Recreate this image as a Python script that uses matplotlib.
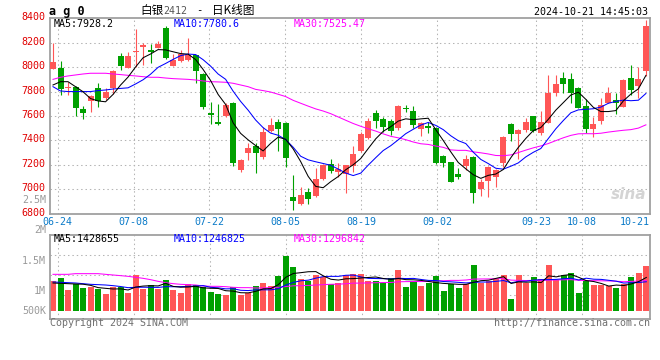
import matplotlib
matplotlib.use('Agg')
import matplotlib.pyplot as plt
import numpy as np
from matplotlib.transforms import ScaledTranslation

# ---------------- data ----------------
opens = [7988, 7996, 7830, 7840, 7660, 7723, 7829, 7750, 7827, 8091,
         7996, 8127, 8162, 8140, 8160, 8318, 8012, 8053, 8059, 8100,
         7944, 7622, 7554, 7600, 7709, 7158, 7295, 7352, 7267, 7478,
         7548, 7546, 6934, 6880, 6975, 6945, 7084, 7204, 7144, 7125,
         7194, 7314, 7417, 7622, 7573, 7562, 7505, 7668, 7641, 7496,
         7518, 7505, 7276, 7221, 7125, 7194, 7267, 7003, 7071, 7098,
         7218, 7535, 7453, 7486, 7600, 7458, 7546, 7791, 7914, 7903,
         7832, 7682, 7497, 7562, 7704, 7731, 7677, 7914, 7849, 7971]
highs = [8195, 8053, 7881, 7845, 7682, 7772, 7868, 7827, 7977, 8113,
         8127, 8310, 8201, 8190, 8214, 8337, 8105, 8140, 8236, 8100,
         7950, 7718, 7698, 7704, 7718, 7245, 7376, 7382, 7507, 7581,
         7573, 7550, 7117, 7022, 7008, 7177, 7207, 7245, 7218, 7199,
         7355, 7472, 7581, 7649, 7595, 7573, 7690, 7690, 7682, 7554,
         7554, 7510, 7280, 7226, 7177, 7281, 7270, 7082, 7190, 7164,
         7436, 7540, 7490, 7581, 7600, 7644, 7936, 7936, 7963, 7950,
         7840, 7739, 7595, 7745, 7840, 7791, 7900, 8018, 7999, 8390]
lows = [7982, 7772, 7772, 7600, 7573, 7636, 7677, 7731, 7780, 7977,
        7996, 8004, 8018, 8037, 8154, 8064, 8012, 8045, 8053, 7873,
        7655, 7535, 7527, 7595, 7194, 7145, 7240, 7136, 7245, 7466,
        7316, 7185, 6831, 6875, 6880, 6940, 7080, 7131, 7104, 6967,
        7145, 7308, 7409, 7499, 7472, 7445, 7486, 7636, 7499, 7436,
        7464, 7207, 7185, 7060, 7082, 7158, 6885, 6945, 6940, 7022,
        7185, 7398, 7245, 7472, 7472, 7445, 7540, 7764, 7791, 7704,
        7663, 7458, 7426, 7535, 7704, 7617, 7671, 7772, 7750, 7928]
closes = [8043, 7821, 7834, 7668, 7627, 7764, 7723, 7800, 7969, 8010,
          8091, 8135, 8179, 8124, 8190, 8078, 8059, 8105, 8100, 7971,
          7671, 7606, 7535, 7690, 7218, 7240, 7341, 7300, 7472, 7527,
          7494, 7254, 6907, 6953, 6921, 7084, 7199, 7153, 7164, 7199,
          7289, 7453, 7562, 7562, 7507, 7478, 7682, 7655, 7527, 7540,
          7505, 7213, 7213, 7062, 7104, 7245, 6973, 7063, 7185, 7158,
          7431, 7453, 7486, 7554, 7480, 7554, 7791, 7862, 7862, 7791,
          7669, 7497, 7535, 7690, 7791, 7709, 7895, 7813, 7903, 8340]
volumes = [1262, 1404, 894, 1163, 979, 1021, 922, 738, 1021, 1007,
           780, 1546, 950, 1106, 950, 1333, 894, 780, 1149, 1092,
           1007, 809, 738, 667, 1007, 667, 780, 1064, 1191, 1064,
           1504, 2355, 1872, 1362, 1262, 1532, 1447, 1149, 1191, 1532,
           1574, 1574, 1262, 1291, 1206, 1404, 1745, 1021, 1262, 1078,
           1177, 1504, 851, 1163, 979, 1163, 1957, 1191, 1262, 1376,
           1518, 511, 1532, 1191, 1447, 1362, 1957, 1305, 1518, 1617,
           766, 1262, 1106, 1106, 1064, 979, 1163, 1447, 1617, 1929]  # thousands of lots

# moving-average values before enough history is visible
ma5_head = [7854, 7881, 7881, 7840]
ma10_head = [7840, 7805, 7800, 7800, 7800, 7800, 7808, 7813, 7821]
ma30_head = [7900, 7917, 7928, 7936, 7944, 7950, 7950, 7950, 7944, 7939,
             7933, 7928, 7922, 7917, 7917, 7911, 7906, 7903, 7900, 7895,
             7887, 7881, 7879, 7876, 7868, 7854, 7840, 7818, 7808]
vma5_head = [1191, 1177, 1163, 1149]
vma10_head = [1234, 1220, 1206, 1191, 1163, 1135, 1121, 1106, 1078]
vma30_head = [1560, 1560, 1560, 1589, 1589, 1589, 1589, 1560, 1532, 1504,
              1475, 1433, 1390, 1333, 1262, 1206, 1163, 1135, 1121, 1106,
              1064, 1050, 1050, 1035, 1007, 993, 993, 979, 979]

date_labels = ['06-24', '07-08', '07-22', '08-05', '08-19', '09-02', '09-23', '10-08', '10-21']
date_index = [1, 11, 21, 31, 41, 51, 64, 70, 79]
price_ticks = [8400, 8200, 8000, 7800, 7600, 7400, 7200, 7000, 6800]
vol_tick_labels = ['2M', '1.5M', '1M', '500K']
price_ma_values = [7928.2, 7780.6, 7525.47]
vol_ma_values = [1428655, 1246825, 1296842]

# ---------------- helpers ----------------
def moving_avg(series, n, head):
    s = np.asarray(series, float)
    out = np.full(len(s), np.nan)
    for i in range(n - 1, len(s)):
        out[i] = s[i - n + 1:i + 1].mean()
    out[:n - 1] = head
    return out

W, H = 660, 360
def fx(px):
    return px / W
def fy(py):
    return 1 - py / H

MONO = 'DejaVu Sans Mono'
RED = '#ff5656'
GREEN = '#00a000'
GRID = '#b4b4b4'
BORDER = '#a0a0a0'
dot = (0, (1.4, 2.8))
MA_LW = 0.75

fig = plt.figure(figsize=(6.6, 3.6), dpi=100)
fig.patch.set_facecolor('white')

n = len(closes)
x = np.arange(n)
up = [c >= o for o, c in zip(opens, closes)]
colors = [RED if u else GREEN for u in up]
# gridline positions (in candle-index units) for the date ticks
tick_pos = [(d * 7.6 - 3) / 7.51 for d in date_index]

# ---------------- price panel ----------------
ax = fig.add_axes([fx(50), fy(213.7), 600 / W, 195.4 / H])
ax.set_xlim(-0.4, 79.49)
ax.set_ylim(6800, 8400)
for s in ax.spines.values():
    s.set_color(BORDER)
    s.set_linewidth(1.3)
for yv in price_ticks[1:-1]:
    ax.axhline(yv, color=GRID, lw=0.75, ls=dot, zorder=0)
for tp in tick_pos[:-1]:
    ax.axvline(tp, color=GRID, lw=0.75, ls=dot, zorder=0)

ax.vlines(x, lows, highs, colors=colors, lw=0.8, zorder=2)
body_bottom = [min(o, c) for o, c in zip(opens, closes)]
body_h = [max(abs(c - o), 7) for o, c in zip(opens, closes)]
ax.bar(x, body_h, bottom=body_bottom, width=0.8, color=colors, linewidth=0, zorder=3)

ma5 = moving_avg(closes, 5, ma5_head)
ma10 = moving_avg(closes, 10, ma10_head)
ma30 = moving_avg(closes, 30, ma30_head)
ax.plot(x, ma30, color='#ff00ff', lw=MA_LW, zorder=4)
ax.plot(x, ma10, color='#0000ff', lw=MA_LW, zorder=4)
ax.plot(x, ma5, color='black', lw=MA_LW, zorder=4)

ax.set_yticks(price_ticks)
ax.set_yticklabels([str(t) for t in price_ticks], color='#e00000', family=MONO, fontsize=7.2)
ax.tick_params(axis='y', length=0, pad=3)
for lab in ax.get_yticklabels():
    lab.set_transform(lab.get_transform() + ScaledTranslation(0, 2 / 100, fig.dpi_scale_trans))
ax.set_xticks(tick_pos)
ax.set_xticklabels(date_labels, color='#0a7ac8', family=MONO, fontsize=7.2)
ax.tick_params(axis='x', length=0, pad=2.5)
ax.get_xticklabels()[-1].set_ha('right')

# watermark
ax.text(0.965, 0.06, 'sina', transform=ax.transAxes, ha='center', va='bottom',
        fontsize=11, fontweight='bold', style='italic', color='#d4d4d4', zorder=1)

# ---------------- volume panel ----------------
ax2 = fig.add_axes([fx(50), fy(318.7), 600 / W, 84 / H])
ax2.set_xlim(-0.4, 79.49)
vol_lo, vol_hi = -328, 3247
ax2.set_ylim(vol_lo, vol_hi)
for s in ax2.spines.values():
    s.set_color(BORDER)
    s.set_linewidth(1.3)
for f in (0.755, 0.517, 0.286):
    ax2.plot([0, 1], [f, f], transform=ax2.transAxes, color=GRID, lw=0.75, ls=dot, zorder=0)
for tp in tick_pos[:-1]:
    ax2.axvline(tp, color=GRID, lw=0.75, ls=dot, zorder=0)
ax2.bar(x, volumes, width=0.8, color=colors, linewidth=0, zorder=2)
vma5 = moving_avg(volumes, 5, vma5_head)
vma10 = moving_avg(volumes, 10, vma10_head)
vma30 = moving_avg(volumes, 30, vma30_head)
ax2.plot(x, vma30, color='#ff00ff', lw=MA_LW, zorder=4)
ax2.plot(x, vma10, color='#0000ff', lw=MA_LW, zorder=4)
ax2.plot(x, vma5, color='black', lw=MA_LW, zorder=4)
ax2.set_xticks([])
ax2.set_yticks([])

# ---------------- texts ----------------
txt = dict(family=MONO, fontsize=7.2, va='center')
fig.text(fx(49), fy(11), 'a g 0', family=MONO, fontsize=8.5, fontweight='bold', va='center')
cjk = ['Noto Sans CJK SC', 'DejaVu Sans']
fig.text(fx(140), fy(10.5), '白银', family=cjk, fontsize=8.4, va='center')
fig.text(fx(163), fy(11), '2412', family=MONO, fontsize=7.2, color='#555555', va='center')
fig.text(fx(196), fy(10.5), '-', family=MONO, fontsize=7.6, va='center')
fig.text(fx(212), fy(10.5), '日K线图', family=cjk, fontsize=8.4, va='center')
fig.text(fx(648), fy(12), '2024-10-21 14:45:03', ha='right', color='black', **txt)

ma_colors = ['black', '#0000ff', '#ff00ff']
ma_names = ['MA5', 'MA10', 'MA30']
ma_x = [54, 174, 294]
price_fmt = ['{:.1f}', '{:.1f}', '{:.2f}']
for name, val, col, px, fmt in zip(ma_names, price_ma_values, ma_colors, ma_x, price_fmt):
    fig.text(fx(px), fy(24), name + ':' + fmt.format(val), color=col, **txt)
for name, val, col, px in zip(ma_names, vol_ma_values, ma_colors, ma_x):
    fig.text(fx(px), fy(238.5), name + ':' + str(val), color=col, **txt)

vol_label_y = [230.3, 261.2, 291, 311.2]
for lab, py in zip(vol_tick_labels, vol_label_y):
    fig.text(fx(46), fy(py), lab, ha='right', color='#9a9a9a', **txt)
fig.text(fx(46), fy(200), '2.5M', ha='right', color='#9a9a9a', **txt)

fig.text(fx(50), fy(323.5), 'Copyright 2024 SINA.COM', color='#707070', **txt)
fig.text(fx(650), fy(323.5), 'http://finance.sina.com.cn', ha='right', color='#707070', **txt)

fig.savefig('out.png', dpi=100, facecolor='white')
